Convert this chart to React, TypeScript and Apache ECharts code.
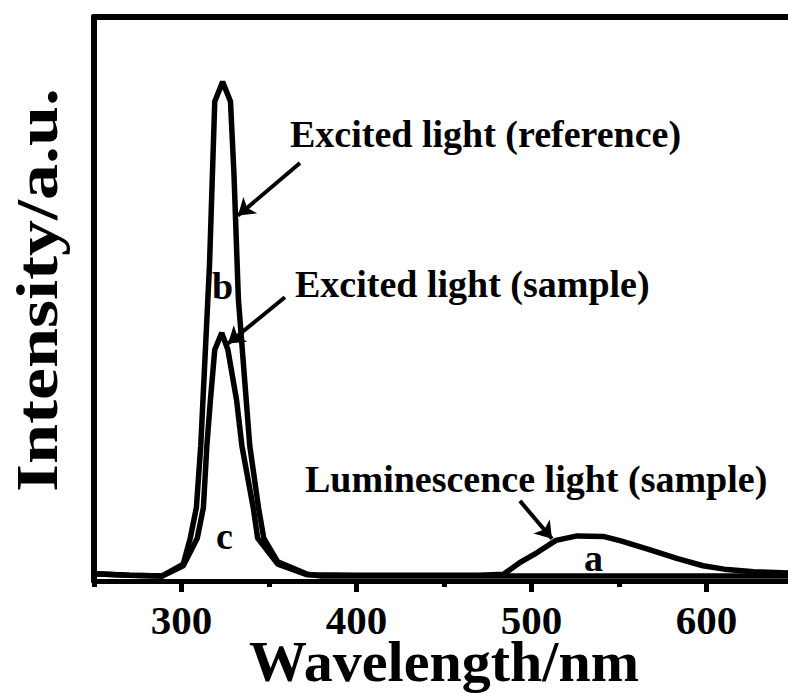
import React, { useEffect, useRef } from 'react';
import * as echarts from 'echarts';

// Reference spectrum (curve b): wavelength (nm) and intensity (a.u.)
const refWavelength = [250, 270, 289, 301, 305, 308.5, 311, 316, 319, 323.5, 328, 330, 332.5, 339, 344, 347, 355, 372, 380, 450, 550, 650];
const refIntensity = [1.3, 1.0, 0.9, 3.0, 7.6, 13.0, 24.0, 56.0, 85.0, 88.5, 85.0, 72.0, 50.0, 24.0, 13.0, 7.6, 3.4, 1.2, 0.9, 0.9, 0.9, 0.9];

// Sample spectrum (curves c and a)
const sampleWavelength = [250, 270, 289, 301, 309, 312.5, 314.5, 316.5, 319, 323, 326.5, 331.5, 334.5, 341, 343.5, 355, 372, 400, 470, 484, 493, 503, 514, 526, 541, 551, 566, 583, 598, 610, 627, 650];
const sampleIntensity = [1.3, 1.0, 0.9, 2.7, 7.6, 13.0, 24.0, 32.0, 41.0, 44.0, 41.0, 32.0, 24.0, 13.0, 7.6, 3.0, 1.1, 1.0, 1.0, 1.2, 3.2, 5.0, 7.2, 8.0, 7.9, 7.1, 5.7, 4.0, 2.7, 2.1, 1.65, 1.4];

const majorTicks = [300, 400, 500, 600];
const minorTicks = [250, 350, 450, 550, 650];

// Annotation arrows: [tail wavelength, tail intensity, tip wavelength, tip intensity]
const arrows = [
  [367.7, 74.1, 332.3, 64.8],
  [359.1, 50.3, 326.6, 42.1],
  [493.4, 14.2, 511.7, 7.5],
];

const FONT = "'Liberation Serif', 'Times New Roman', serif";

export default function App() {
  const ref = useRef<HTMLDivElement>(null);
  useEffect(() => {
    if (!ref.current) return;
    const chart = echarts.init(ref.current, null, { renderer: 'svg' });
    const refData = refWavelength.map((w, i) => [w, refIntensity[i]]);
    const sampleData = sampleWavelength.map((w, i) => [w, sampleIntensity[i]]);
    const textStyle = (text: string, x: number, y: number, size = 38) => ({
      type: 'text',
      x,
      y,
      style: {
        text,
        font: `bold ${size}px ${FONT}`,
        fill: '#000',
        textAlign: 'left',
        textVerticalAlign: 'middle',
      },
      z: 100,
    });
    chart.setOption({
      animation: false,
      backgroundColor: '#fff',
      grid: { left: 94, right: 6, top: 17, bottom: 112, containLabel: false, outerBoundsMode: 'none' },
      xAxis: [
        {
          type: 'value',
          min: 250,
          max: 650,
          interval: 50,
          position: 'bottom',
          splitLine: { show: false },
          axisLine: { show: true, lineStyle: { color: '#000', width: 5 } },
          axisTick: { show: true, customValues: majorTicks, length: 11, lineStyle: { color: '#000', width: 5 } },
          axisLabel: {
            customValues: majorTicks,
            color: '#000',
            fontSize: 41,
            lineHeight: 30,
            fontWeight: 'bold',
            fontFamily: FONT,
            margin: 24,
          },
          name: 'Wavelength/nm',
          nameLocation: 'middle',
          nameGap: 57,
          nameMoveOverlap: false,
          nameTextStyle: { color: '#000', fontSize: 58, lineHeight: 46, fontWeight: 'bold', fontFamily: FONT },
        },
        {
          type: 'value',
          min: 250,
          max: 650,
          interval: 50,
          position: 'bottom',
          splitLine: { show: false },
          axisLine: { show: false },
          axisTick: { show: true, customValues: minorTicks, length: 6, lineStyle: { color: '#000', width: 5 } },
          axisLabel: { show: false },
        },
        {
          type: 'value',
          min: 250,
          max: 650,
          position: 'top',
          splitLine: { show: false },
          axisLine: { show: true, lineStyle: { color: '#000', width: 6 } },
          axisTick: { show: false },
          axisLabel: { show: false },
        },
      ],
      yAxis: {
        type: 'value',
        min: 0,
        max: 100,
        splitLine: { show: false },
        axisLine: { show: true, lineStyle: { color: '#000', width: 6 } },
        axisTick: { show: false },
        axisLabel: { show: false },
      },
      series: [
        {
          name: 'Excited light (reference)',
          type: 'line',
          data: refData,
          showSymbol: false,
          symbol: 'none',
          lineStyle: { color: '#000', width: 5.5 },
          markLine: {
            silent: true,
            symbol: ['none', 'arrow'],
            symbolSize: 16,
            label: { show: false },
            lineStyle: { color: '#000', width: 4, type: 'solid' },
            data: arrows.map((a) => [{ coord: [a[0], a[1]] }, { coord: [a[2], a[3]] }]),
          },
        },
        {
          name: 'Sample',
          type: 'line',
          data: sampleData,
          showSymbol: false,
          symbol: 'none',
          lineStyle: { color: '#000', width: 5.5 },
        },
      ],
      graphic: [
        {
          type: 'text',
          x: 37,
          y: 290,
          rotation: Math.PI / 2,
          scaleX: 1.2,
          style: {
            text: 'Intensity/a.u.',
            font: `bold 60px ${FONT}`,
            fill: '#000',
            textAlign: 'center',
            textVerticalAlign: 'middle',
          },
        },
        textStyle('Excited light (reference)', 290, 134),
        textStyle('Excited light (sample)', 295, 284),
        textStyle('Luminescence light (sample)', 305, 479),
        textStyle('b', 212, 286),
        textStyle('c', 216, 536),
        textStyle('a', 584, 558),
      ],
    });
    return () => chart.dispose();
  }, []);
  return (
    <div style={{ position: 'fixed', left: 0, top: 0, width: 788, height: 693, overflow: 'hidden', background: '#fff' }}>
      <div ref={ref} style={{ width: 800, height: 693 }} />
    </div>
  );
}
